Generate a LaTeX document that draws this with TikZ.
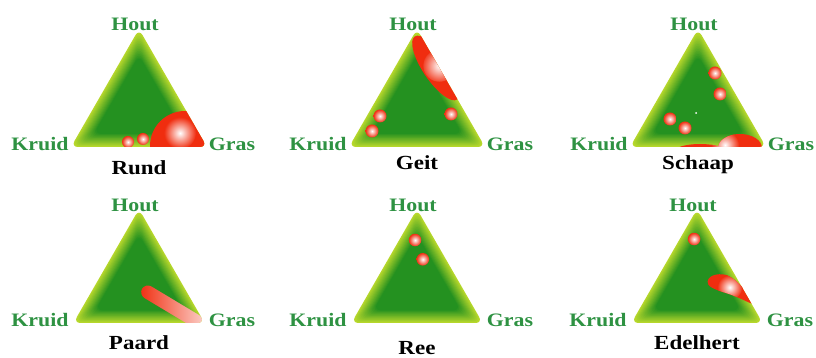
\documentclass[tikz,border=0pt]{standalone}
\usepackage{fontspec}
\setmainfont{Liberation Serif}[FakeStretch=1.15]
\definecolor{geel}{RGB}{184,216,44}
\definecolor{donkergroen}{RGB}{36,145,32}
\definecolor{labelgroen}{RGB}{46,146,66}
\definecolor{rood}{RGB}{240,45,15}
\newcommand\driehoekclip{\clip[rounded corners=7] (-68,0) -- (0,118) -- (68,0) -- cycle;}
\begin{document}
\begin{tikzpicture}
    [
    x=1pt, y=1pt,
    lbl/.style={text=labelgroen, font=\bfseries\fontsize{19}{21}\selectfont, anchor=base},
    titel/.style={text=black, font=\bfseries\fontsize{20}{22}\selectfont, anchor=base},
    bol/.style={inner color=white, outer color=rood}
    ]
    \useasboundingbox (0,0) rectangle (816,358);
    % de zes driehoeken met hun labels
    \foreach \px/\py/\sc/\naam/\hy/\ty [count=\n] in {139/211/1/Rund/116/-28, 417/211/1/Geit/116/-23,
      698/211/1/Schaap/116/-23, 139/35/0.965/Paard/111/-27, 417/35/0.965/Ree/111/-32,
      697/35/0.965/Edelhert/111/-27}
    {
      \begin{scope}[shift={(\px,\py)}]
        \begin{scope}[scale=\sc]
          \foreach \i in {0,...,16}
          {
            \pgfmathsetmacro\s{1-0.021*\i}
            \pgfmathsetmacro\p{\i*6.25}
            \fill[donkergroen!\p!geel, rounded corners=7]
              (-68*\s,39.3-39.3*\s) -- (0,39.3+78.7*\s) -- (68*\s,39.3-39.3*\s) -- cycle;
          }
        \end{scope}
        \node (hout\n) at (-4,\hy) [lbl] {Hout};
        \node (kruid\n) at (-99,-4) [lbl] {Kruid};
        \node (gras\n) at (93,-4) [lbl] {Gras};
        \node (titel\n) at (0,\ty) [titel] {\naam};
      \end{scope}
    }
    % Rund
    \begin{scope}[shift={(139,211)}]
      \driehoekclip
      \fill[rood] (46,1) circle (35);
      \shade[bol] (41,14) circle (16);
      \shade[bol] (-11,5) circle (6);
      \shade[bol] (4,8) circle (6);
    \end{scope}
    % Geit
    \begin{scope}[shift={(417,211)}]
      \driehoekclip
      \begin{scope}[shift={(19,79)}, rotate=-56]
        \clip (0,0) ellipse (38 and 13);
        \fill[rood] (0,0) ellipse (38 and 13);
        \shade[bol] (0,4) circle (16);
      \end{scope}
      \shade[bol] (-37,31) circle (6.5);
      \shade[bol] (-45,16) circle (6.5);
      \shade[bol] (34,33) circle (6.5);
    \end{scope}
    % Schaap
    \begin{scope}[shift={(698,211)}]
      \driehoekclip
      \shade[bol] (17,74) circle (6.5);
      \shade[bol] (22,53) circle (6.5);
      \shade[bol] (-28,28) circle (6.5);
      \shade[bol] (-13,19) circle (6.5);
      \fill[white] (-2,34) circle (1);
      \clip (2,-4) ellipse (25 and 7) (42,-1) ellipse (22 and 14);
      \fill[rood] (-30,-20) rectangle (70,20);
      \shade[bol] (27,2) circle (14);
    \end{scope}
    % Paard
    \begin{scope}[shift={(139,35)}, scale=0.965]
      \driehoekclip
      \begin{scope}[shift={(34,17)}, rotate=-31]
        \shade[left color=rood, right color=white!78!rood, rounded corners=7]
          (-36,-7) rectangle (36,7);
      \end{scope}
    \end{scope}
    % Ree
    \begin{scope}[shift={(417,35)}, scale=0.965]
      \shade[bol] (-2,86) circle (6.5);
      \shade[bol] (6,66) circle (6.5);
    \end{scope}
    % Edelhert
    \begin{scope}[shift={(697,35)}, scale=0.965]
      \driehoekclip
      \shade[bol] (-3,87) circle (6.5);
      \clip (11,43) .. controls (12,51) and (26,52) .. (32,49)
        .. controls (43,44) and (51,33) .. (57,20)
        .. controls (51,22) and (41,28) .. (27,32)
        .. controls (18,35) and (10,38) .. (11,43);
      \fill[rood] (0,10) rectangle (60,55);
      \shade[bol] (34,37) circle (13);
    \end{scope}
  \end{tikzpicture}
\end{document}
